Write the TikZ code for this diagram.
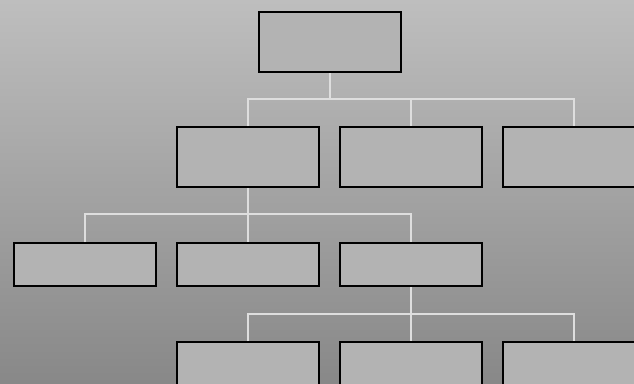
\documentclass[tikz,border=0pt]{standalone}
\usetikzlibrary{positioning}
\definecolor{bgtop}{RGB}{190,190,190}
\definecolor{bgbot}{RGB}{136,136,136}
\definecolor{boxfill}{RGB}{179,179,179}
\definecolor{linkgray}{RGB}{222,222,222}
\tikzset{
  unit/.style={
    rectangle, draw=black, fill=boxfill, line width=2pt,
    minimum width=142pt, minimum height=60pt, inner sep=0pt
  },
  unitlow/.style={unit, minimum height=43pt},
  link/.style={draw=linkgray, line width=1.5pt}
}
\begin{document}
\begin{tikzpicture}[x=1pt, y=1pt]
  % background
  \useasboundingbox (0,0) rectangle (634,-383);
  \shade[top color=bgtop, bottom color=bgbot] (0,0) rectangle (634,-383);

  \node[unit] (root) at (330,-42) {};
  \node[unit, below=53pt of root, xshift=-82pt] (l1a) {};
  \node[unit, right=19pt of l1a] (l1b) {};
  \node[unit, right=19pt of l1b] (l1c) {};

  \node[unitlow, below=54pt of l1a, xshift=-163pt] (l2a) {};
  \node[unitlow, right=19pt of l2a] (l2b) {};
  \node[unitlow, right=19pt of l2b] (l2c) {};

  \node[unit, below=54pt of l2c, xshift=-163pt] (l3a) {};
  \node[unit, right=19pt of l3a] (l3b) {};
  \node[unit, right=19pt of l3b] (l3c) {};

  % connectors
  \coordinate[below=26pt of root] (j0);
  \coordinate[below=26pt of l1a] (j1);
  \coordinate[below=27pt of l2c] (j2);

  \draw[link] (root) -- (j0);
  \draw[link] (l1a.north) |- (j0) -| (l1c.north);
  \draw[link] (j0) -| (l1b.north);

  \draw[link] (l1a) -- (l2b);
  \draw[link] (l2a.north) |- (j1) -| (l2c.north);

  \draw[link] (l2c) -- (l3b);
  \draw[link] (l3a.north) |- (j2) -| (l3c.north);
\end{tikzpicture}
\end{document}
